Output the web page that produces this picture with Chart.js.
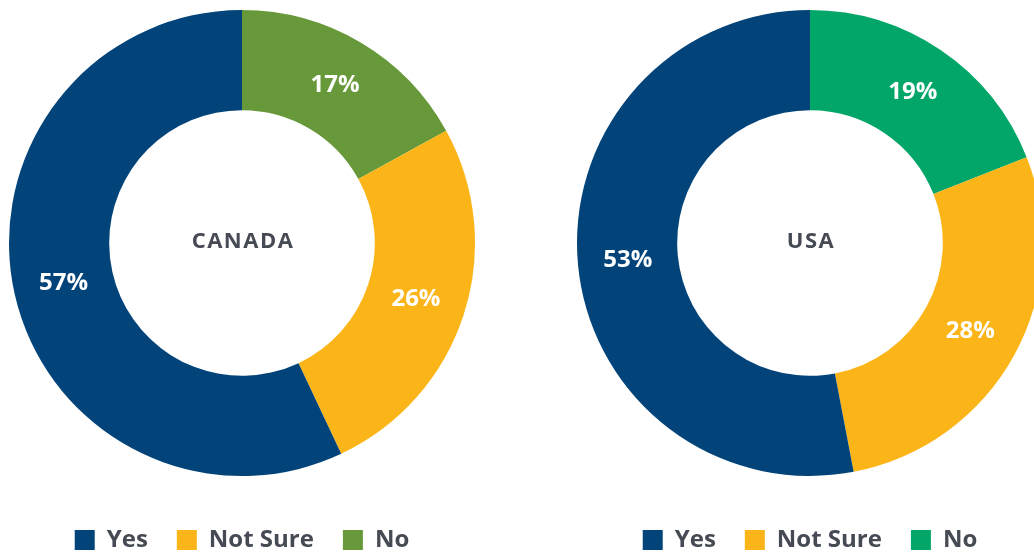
<!DOCTYPE html>
<html>
<head>
<meta charset="utf-8">
<script src="https://cdn.jsdelivr.net/npm/chart.js@4"></script>
<style>
  html, body { margin: 0; padding: 0; background: #fff; overflow: hidden; width: 1034px; height: 552px; }
  canvas { position: absolute; top: -13px; }
  #canada { left: 0; }
  #usa { left: 568px; }
</style>
</head>
<body>
<canvas id="canada" width="484" height="575"></canvas>
<canvas id="usa" width="484" height="575"></canvas>
<script>
const categories = ["Yes", "Not Sure", "No"];
const canadaValues = [57, 26, 17];
const usaValues = [53, 28, 19];
const canadaColors = ["#02437a", "#fcb518", "#67983a"];
const usaColors = ["#02437a", "#fcb518", "#02a668"];

const FONT = "'Open Sans', sans-serif";
const TEXT_GRAY = "#454a54";

// percent labels inside each slice + country name in the hole
const sliceLabels = {
  id: "sliceLabels",
  afterDatasetsDraw(chart, args, opts) {
    const ctx = chart.ctx;
    const meta = chart.getDatasetMeta(0);
    ctx.save();
    ctx.textAlign = "center";
    ctx.textBaseline = "middle";
    ctx.fillStyle = "#fff";
    ctx.font = "bold 24px " + FONT;
    meta.data.forEach((arc, i) => {
      const p = arc.tooltipPosition();
      ctx.fillText(chart.data.datasets[0].data[i] + "%", p.x, p.y);
    });
    const c = meta.data[0];
    ctx.fillStyle = TEXT_GRAY;
    ctx.font = "bold 22px " + FONT;
    ctx.letterSpacing = "1.5px";
    ctx.fillText(opts.title, c.x + 1, c.y - 1);
    ctx.restore();
  }
};

function makeDonut(id, values, colors, title) {
  new Chart(document.getElementById(id), {
    type: "doughnut",
    data: {
      labels: categories.slice().reverse(),
      datasets: [{
        data: values.slice().reverse(),
        backgroundColor: colors.slice().reverse(),
        borderWidth: 0,
      }],
    },
    options: {
      responsive: false,
      animation: false,
      cutout: "57%",
      layout: { padding: { left: 9, right: 9, top: 0, bottom: 0 } },
      plugins: {
        tooltip: { enabled: false },
        sliceLabels: { title: title },
        legend: {
          position: "bottom",
          reverse: true,
          labels: {
            boxWidth: 20,
            boxHeight: 20,
            padding: 29,
            color: TEXT_GRAY,
            font: { family: FONT, size: 24, weight: "bold" },
          },
        },
      },
    },
    plugins: [sliceLabels],
  });
}

makeDonut("canada", canadaValues, canadaColors, "CANADA");
makeDonut("usa", usaValues, usaColors, "USA");
</script>
</body>
</html>
